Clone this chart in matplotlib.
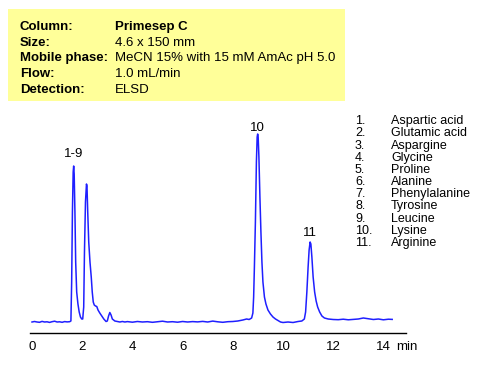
import matplotlib
matplotlib.use("Agg")
from matplotlib import pyplot as plt
from matplotlib.patches import Rectangle

plt.rcParams['font.family'] = ['Liberation Sans', 'DejaVu Sans']

# chromatogram trace (time in min, signal above baseline)
time = [0.0, 0.1, 0.2, 0.3, 0.4, 0.5, 0.6, 0.7, 0.8, 0.9, 1.0, 1.1, 1.2, 1.3, 1.4, 1.5,
        1.55, 1.58, 1.61, 1.64, 1.66, 1.68, 1.71, 1.74, 1.78, 1.83, 1.88, 1.93, 1.98, 2.02,
        2.06, 2.09, 2.13, 2.17, 2.19, 2.22, 2.26, 2.31, 2.36, 2.40, 2.44, 2.48, 2.53, 2.58,
        2.63, 2.70, 2.78, 2.86, 2.95, 3.0, 3.05, 3.1, 3.15, 3.2, 3.3, 3.4, 3.5, 3.6, 3.7,
        3.8, 4.0, 4.2, 4.4, 4.6, 4.8, 5.0, 5.2, 5.4, 5.6, 5.8, 6.0, 6.2, 6.4, 6.6, 6.8,
        7.0, 7.2, 7.4, 7.6, 7.8, 8.0, 8.2, 8.4, 8.55, 8.65, 8.75, 8.8, 8.83, 8.86, 8.9,
        8.94, 8.97, 8.99, 9.01, 9.04, 9.08, 9.12, 9.16, 9.2, 9.26, 9.32, 9.4, 9.5, 9.6,
        9.7, 9.8, 9.9, 10.0, 10.2, 10.4, 10.6, 10.75, 10.85, 10.9, 10.95, 11.0, 11.04,
        11.08, 11.11, 11.15, 11.2, 11.26, 11.32, 11.38, 11.46, 11.55, 11.65, 11.8, 12.0,
        12.2, 12.4, 12.6, 12.8, 13.0, 13.2, 13.4, 13.6, 13.8, 14.0, 14.2, 14.35]
signal = [0, 0.5, 0, -0.3, 0.6, 0, 0.2, -0.4, 0.3, 0.8, 0, 0.2, -0.3, 0.4, 0.1, 0.3,
          1, 40, 110, 150, 156, 148, 110, 60, 30, 18, 10, 5, 3, 3,
          15, 70, 120, 138, 136, 110, 80, 60, 45, 30, 20, 17, 16, 15.5,
          12, 9, 6, 3, 0.5, 1, 6, 9.5, 7, 3, 1, 0.5, 0, 0.5, 0,
          0.4, -0.2, 0.5, 0, 0.3, -0.3, 0.2, 0.8, 0, 0.3, -0.2, 0.5, 0, 0.4, 0.1, 0.6,
          0, 0.9, 0.2, -0.3, 0.3, 0.5, 1, 2, 3, 2.5, 4, 9, 25, 55, 100,
          160, 185, 188, 185, 165, 125, 90, 60, 40, 25, 18, 12, 8, 5,
          3, 1.5, 0, -0.5, 0, -0.5, 0.5, 1, 3, 10, 30, 55, 72,
          80, 78, 65, 45, 30, 21, 15, 10, 6, 4, 3, 2.5,
          2.3, 2.8, 2.2, 2.6, 3, 4, 3.2, 2.5, 3, 2.2, 2.8, 2.6]

peak_labels = ["1-9", "10", "11"]
peak_pos = [(1.65, 162), (8.99, 188), (11.08, 83)]

info_keys = ["Column:", "Size:", "Mobile phase:", "Flow:", "Detection:"]
info_vals = ["Primesep C", "4.6 x 150 mm", "MeCN 15% with 15 mM AmAc pH 5.0",
             "1.0 mL/min", "ELSD"]

compounds = ["Aspartic acid", "Glutamic acid", "Aspargine", "Glycine", "Proline",
             "Alanine", "Phenylalanine", "Tyrosine", "Leucine", "Lysine", "Arginine"]

fig = plt.figure(figsize=(4.93, 3.74), dpi=100)
ax = fig.add_axes([30 / 493, 41 / 374, 376 / 493, 223 / 374])
ax.plot(time, signal, color='#1f1fff', lw=1.1)
ax.set_xlim(-0.08, 14.9)
ax.set_ylim(-11, 212)
ax.set_xticks(range(0, 15, 2))
ax.tick_params(axis='x', length=0, pad=6, labelsize=9.5)
ax.set_yticks([])
for s in ['left', 'right', 'top']:
    ax.spines[s].set_visible(False)
ax.spines['bottom'].set_linewidth(1)
ax.text(0.975, -0.074, "min", transform=ax.transAxes, fontsize=9.5, ha='left', va='baseline')

for lab, (px, py) in zip(peak_labels, peak_pos):
    ax.text(px, py, lab, fontsize=9.5, ha='center', va='bottom')

# info box
fig.patches.append(Rectangle((8 / 493, 1 - 101 / 374), 337 / 493, 92 / 374,
                             transform=fig.transFigure, facecolor='#ffff99',
                             edgecolor='none', zorder=0))
for i, (k, v) in enumerate(zip(info_keys, info_vals)):
    y = 1 - (29.8 + i * 15.8) / 374
    fig.text(20 / 493, y, k, fontsize=9.5, fontweight='bold', va='baseline')
    fig.text(115 / 493, y, v, fontsize=9.5, va='baseline',
             fontweight='bold' if i == 0 else 'normal')

# compound list
for i, name in enumerate(compounds):
    y = 1 - (124.3 + i * 12.17) / 374
    fig.text(355 / 493, y, f"{i + 1}.", fontsize=9, va='baseline')
    fig.text(391 / 493, y, name, fontsize=9, va='baseline')

fig.savefig("out.png", dpi=100)
